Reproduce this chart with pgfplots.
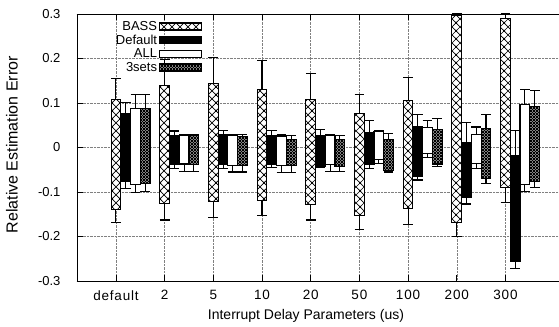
\documentclass[border=0pt]{standalone}
\usepackage{pgfplots}
\pgfplotsset{compat=1.18}
\usepackage{pgfplotstable}
\usetikzlibrary{patterns}
\usepackage{fontspec}
\setmainfont{Liberation Sans}
\newfontfamily\widefont[LetterSpace=6]{Liberation Sans}

\pgfdeclarepatternformonly{bigx}{\pgfpoint{-1pt}{-1pt}}{\pgfpoint{9pt}{9pt}}{\pgfpoint{8pt}{8pt}}{%
  \pgfsetlinewidth{0.7pt}%
  \pgfpathmoveto{\pgfpoint{-1pt}{-1pt}}\pgfpathlineto{\pgfpoint{9pt}{9pt}}%
  \pgfpathmoveto{\pgfpoint{-1pt}{9pt}}\pgfpathlineto{\pgfpoint{9pt}{-1pt}}%
  \pgfusepath{stroke}}
\pgfdeclarepatternformonly{finex}{\pgfpoint{-0.5pt}{-0.5pt}}{\pgfpoint{3.5pt}{3.5pt}}{\pgfpoint{3pt}{3pt}}{%
  \pgfsetlinewidth{0.9pt}%
  \pgfpathmoveto{\pgfpoint{-0.5pt}{-0.5pt}}\pgfpathlineto{\pgfpoint{3.5pt}{3.5pt}}%
  \pgfpathmoveto{\pgfpoint{-0.5pt}{3.5pt}}\pgfpathlineto{\pgfpoint{3.5pt}{-0.5pt}}%
  \pgfusepath{stroke}}

% columns: lower whisker, box bottom, box top, upper whisker (one row per category)
\pgfplotstableread{
lw lq uq uw
-0.169 -0.139 0.107 0.156
-0.163 -0.125 0.140 0.197
-0.157 -0.122 0.144 0.202
-0.153 -0.119 0.131 0.195
-0.163 -0.129 0.108 0.167
-0.185 -0.152 0.076 0.119
-0.173 -0.138 0.106 0.158
-0.200 -0.168 0.297 0.300
-0.124 -0.089 0.289 0.300
}\basstab
\pgfplotstableread{
lw lq uq uw
-0.092 -0.077 0.077 0.102
-0.047 -0.038 0.026 0.037
-0.047 -0.039 0.030 0.039
-0.045 -0.039 0.026 0.039
-0.045 -0.043 0.027 0.041
-0.047 -0.038 0.034 0.060
-0.073 -0.065 0.048 0.075
-0.127 -0.112 0.012 0.056
-0.272 -0.257 -0.018 0.039
}\deftab
\pgfplotstableread{
lw lq uq uw
-0.102 -0.084 0.088 0.119
-0.053 -0.037 0.028 0.030
-0.055 -0.040 0.028 0.030
-0.057 -0.041 0.024 0.028
-0.053 -0.038 0.026 0.028
-0.036 -0.027 0.035 0.038
-0.022 -0.013 0.045 0.060
-0.047 -0.036 0.029 0.046
-0.098 -0.083 0.097 0.131
}\alltab
\pgfplotstableread{
lw lq uq uw
-0.098 -0.080 0.087 0.120
-0.053 -0.038 0.026 0.030
-0.055 -0.040 0.024 0.030
-0.057 -0.041 0.018 0.026
-0.054 -0.042 0.018 0.026
-0.055 -0.051 0.017 0.032
-0.043 -0.037 0.041 0.065
-0.080 -0.069 0.042 0.075
-0.090 -0.077 0.093 0.129
}\setstab

\pgfplotsset{
  bassbox/.style={preaction={fill=white}, pattern=bigx},
  defbox/.style={fill=black},
  allbox/.style={fill=white},
  setsbox/.style={preaction={fill=white}, pattern=finex},
}

\gdef\allplots{}
% #1 table, #2 row, #3 offset, #4 box style
\newcommand\addbox[4]{%
  \pgfplotstablegetelem{#2}{lw}\of#1\let\vlw\pgfplotsretval
  \pgfplotstablegetelem{#2}{lq}\of#1\let\vlq\pgfplotsretval
  \pgfplotstablegetelem{#2}{uq}\of#1\let\vuq\pgfplotsretval
  \pgfplotstablegetelem{#2}{uw}\of#1\let\vuw\pgfplotsretval
  \pgfmathsetmacro\vc{#2+#3}%
  \pgfmathsetmacro\vl{#2+#3-0.1}%
  \pgfmathsetmacro\vr{#2+#3+0.1}%
  \xdef\allplots{\unexpanded\expandafter{\allplots}%
    \noexpand\addplot[forget plot, black, line width=1.1pt, unbounded coords=jump]
      coordinates {(\vc,\vlw) (\vc,\vuw) (\vl,nan) (\vl,\vuw) (\vr,\vuw) (\vl,nan) (\vl,\vlw) (\vr,\vlw)};
    \noexpand\addplot[forget plot, black, line width=1.1pt, #4]
      coordinates {(\vl,\vlq) (\vr,\vlq) (\vr,\vuq) (\vl,\vuq)} --cycle;
  }%
}
\foreach \r in {0,...,8}{%
  \addbox{\basstab}{\r}{0}{bassbox}%
  \addbox{\deftab}{\r}{0.2}{defbox}%
  \addbox{\alltab}{\r}{0.4}{allbox}%
  \addbox{\setstab}{\r}{0.6}{setsbox}%
}

\begin{document}
\begin{tikzpicture}
\begin{axis}[
  scale only axis,
  width=482pt, height=267pt,
  xmin=-0.8, xmax=9.1,
  ymin=-0.3, ymax=0.3,
  axis x line*=box, axis y line*=left,
  axis line style={line width=0.9pt},
  xtick={0,1,2,3,4,5,6,7,8},
  xticklabels={default,2,5,10,20,50,100,200,300},
  ytick={-0.3,-0.2,-0.1,0,0.1,0.2,0.3},
  yticklabels={-0.3,-0.2,-0.1,0,0.1,0.2,0.3},
  tick align=inside,
  major tick length=6pt,
  tick style={black, line width=0.8pt},
  grid=major,
  grid style={densely dotted, gray, line width=0.5pt},
  yticklabel style={xshift=-13pt, font=\fontsize{13}{15}\selectfont},
  xticklabel style={yshift=-6pt, font=\widefont\fontsize{13.5}{15}\selectfont},
  xlabel={Interrupt Delay Parameters (us)},
  ylabel={Relative Estimation Error},
  xlabel style={at={(axis description cs:0.475,-0.131)}, anchor=center, font=\fontsize{14}{16}\selectfont},
  ylabel style={at={(axis description cs:-0.135,0.51)}, anchor=center, font=\fontsize{16}{18}\selectfont},
  legend style={draw=none, fill=none, at={(axis description cs:0.262,0.985)}, anchor=north east,
    font=\fontsize{13}{15}\selectfont, row sep=-1pt, inner sep=1pt},
  legend plot pos=right,
  legend cell align=right,
]
\allplots
\addplot[black, line width=1.1pt, forget plot] coordinates {(8.1,-0.018) (8.1,0.039) (8.3,0.039) (8.3,-0.018)};

\addlegendimage{legend image code/.code={\draw[line width=1pt, preaction={fill=white}, pattern=bigx] (0pt,-3.5pt) rectangle (42pt,3.5pt);}}
\addlegendentry{BASS}
\addlegendimage{legend image code/.code={\draw[line width=1pt, fill=black] (0pt,-3.5pt) rectangle (42pt,3.5pt);}}
\addlegendentry{Default}
\addlegendimage{legend image code/.code={\draw[line width=1pt, fill=white] (0pt,-3.5pt) rectangle (42pt,3.5pt);}}
\addlegendentry{ALL}
\addlegendimage{legend image code/.code={\draw[line width=1pt, preaction={fill=white}, pattern=finex] (0pt,-3.5pt) rectangle (42pt,3.5pt);}}
\addlegendentry{3sets}
\end{axis}
\pgfresetboundingbox
\path ([shift={(-77pt,-46pt)}]current axis.south west) rectangle ([shift={(0pt,14pt)}]current axis.north east);
\end{tikzpicture}
\end{document}
